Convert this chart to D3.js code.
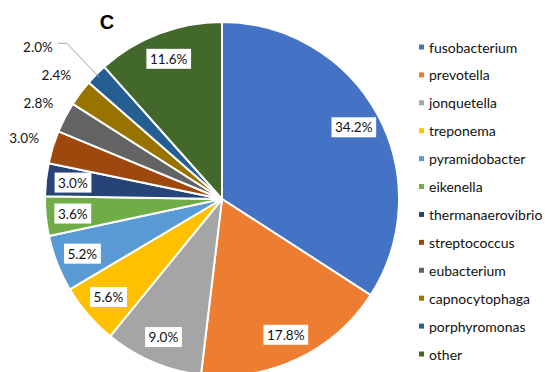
<!DOCTYPE html>
<html>
<head>
<meta charset="utf-8">
<script src="https://cdn.jsdelivr.net/npm/d3@7"></script>
<style>
  html, body { margin: 0; padding: 0; background: #fff; }
  svg { display: block; font-family: Lato, "Open Sans", sans-serif; }
</style>
</head>
<body>
<svg id="chart" width="545" height="372"></svg>
<script>
const categories = ["fusobacterium","prevotella","jonquetella","treponema","pyramidobacter","eikenella","thermanaerovibrio","streptococcus","eubacterium","capnocytophaga","porphyromonas","other"];
const values = [34.2, 17.8, 9.0, 5.6, 5.2, 3.6, 3.0, 3.0, 2.8, 2.4, 2.0, 11.6];
const labels = ["34.2%","17.8%","9.0%","5.6%","5.2%","3.6%","3.0%","3.0%","2.8%","2.4%","2.0%","11.6%"];
const labelPlacement = ["inside","inside","inside","inside","inside","inside","inside","outside","outside","outside","leader","inside"];
const colors = ["#4472C4","#ED7D31","#A5A5A5","#FFC000","#5B9BD5","#70AD47","#264478","#9E480E","#636363","#997300","#255E91","#43682B"];
const title = "C";

const svg = d3.select("#chart");
const cx = 222, cy = 199, R = 177;
const g = svg.append("g").attr("transform", `translate(${cx},${cy})`);

const data = categories.map((c, i) => ({ cat: c, value: values[i], label: labels[i], place: labelPlacement[i], color: colors[i] }));
const pie = d3.pie().value(d => d.value).sort(null);
const arcs = pie(data);
const arc = d3.arc().innerRadius(0).outerRadius(R);
const inArc = d3.arc().innerRadius(150).outerRadius(150);
const outArc = d3.arc().innerRadius(207).outerRadius(207);

g.selectAll("path.slice").data(arcs).enter().append("path")
  .attr("class", "slice")
  .attr("d", arc)
  .attr("fill", d => d.data.color)
  .attr("stroke", "#fff")
  .attr("stroke-width", 2)
  .attr("stroke-linejoin", "round");

// labels
arcs.forEach(a => {
  let x, y;
  if (a.data.place === "inside") {
    [x, y] = inArc.centroid(a);
  } else if (a.data.place === "outside") {
    [x, y] = outArc.centroid(a);
  } else {
    const [ox, oy] = outArc.centroid(a);
    x = ox - 37; y = oy - 6;
    const mid = (a.startAngle + a.endAngle) / 2;
    const ex = Math.sin(mid) * (R - 4), ey = -Math.cos(mid) * (R - 4);
    g.append("polyline")
      .attr("points", `${x + 20},${y - 4} ${x + 29},${y - 4} ${ex},${ey}`)
      .attr("fill", "none").attr("stroke", "#A6A6A6").attr("stroke-width", 1);
  }
  const t = g.append("text")
    .attr("x", x).attr("y", y)
    .attr("text-anchor", "middle")
    .attr("dominant-baseline", "central")
    .attr("font-size", 13.5)
    .attr("fill", "#111")
    .text(a.data.label);
  if (a.data.place === "inside") {
    const bb = t.node().getBBox();
    g.insert("rect", function() { return t.node(); })
      .attr("x", bb.x - 3.5).attr("y", y - 10)
      .attr("width", bb.width + 7).attr("height", 20)
      .attr("fill", "#fff");
  }
});

// title
svg.append("text")
  .attr("x", 107).attr("y", 22)
  .attr("text-anchor", "middle")
  .attr("dominant-baseline", "central")
  .attr("font-size", 20).attr("font-weight", "bold")
  .attr("font-family", "'Liberation Sans', Arial, sans-serif")
  .attr("fill", "#000")
  .text(title);

// legend
const ly = d3.scalePoint().domain(categories).range([47, 354]);
const leg = svg.append("g");
const items = leg.selectAll("g").data(data).enter().append("g")
  .attr("transform", d => `translate(419,${ly(d.cat)})`);
items.append("rect").attr("x", 0).attr("y", -2.5).attr("width", 5).attr("height", 5).attr("fill", d => d.color);
items.append("text").attr("x", 10).attr("y", 0)
  .attr("dominant-baseline", "central")
  .attr("font-size", 14).attr("fill", "#111")
  .text(d => d.cat);
</script>
</body>
</html>
